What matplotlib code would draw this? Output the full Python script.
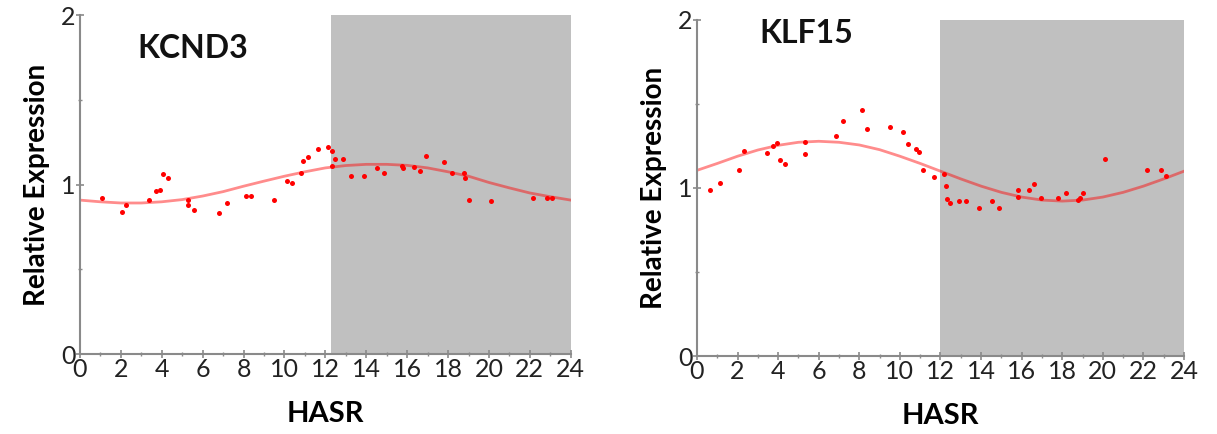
import numpy as np
import matplotlib
matplotlib.use("Agg")
import matplotlib.pyplot as plt
from matplotlib.ticker import MultipleLocator

plt.rcParams["font.family"] = ["Lato", "DejaVu Sans"]

# ---- KCND3 ----
kcnd3_h = [1.09, 2.05, 2.27, 3.4, 3.7, 3.91, 4.04, 4.32, 5.28, 5.28, 5.59, 6.81, 7.18,
           8.11, 8.34, 9.5, 10.13, 10.38, 10.79, 10.92, 11.13, 11.66, 12.12, 12.3, 12.46,
           12.33, 12.87, 13.25, 13.9, 14.52, 14.86, 15.77, 15.82, 16.34, 16.62, 16.93,
           17.79, 18.2, 18.8, 18.83, 19.03, 20.1, 22.17, 22.86, 23.09]
kcnd3_v = [0.92, 0.84, 0.88, 0.91, 0.96, 0.97, 1.06, 1.04, 0.91, 0.88, 0.85, 0.83, 0.89,
           0.93, 0.93, 0.91, 1.02, 1.01, 1.07, 1.14, 1.16, 1.21, 1.22, 1.20, 1.15,
           1.11, 1.15, 1.05, 1.05, 1.10, 1.07, 1.11, 1.10, 1.106, 1.08, 1.17,
           1.13, 1.07, 1.07, 1.04, 0.91, 0.90, 0.92, 0.92, 0.92]
kcnd3_fit = [0.908, 0.898, 0.891, 0.891, 0.898, 0.911, 0.932, 0.958, 0.990, 1.020, 1.049,
             1.075, 1.098, 1.112, 1.119, 1.119, 1.113, 1.098, 1.075, 1.049, 1.012, 0.980,
             0.950, 0.928, 0.908]
kcnd3_dark = (12.27, 24)

# ---- KLF15 ----
klf15_h = [0.64, 1.12, 2.08, 2.3, 3.45, 3.73, 3.96, 4.07, 4.35, 5.33, 5.33, 6.84, 7.21,
           8.15, 8.38, 9.53, 10.17, 10.4, 10.81, 10.92, 11.16, 11.69, 12.16, 12.29, 12.34,
           12.47, 12.9, 13.26, 13.92, 14.55, 14.9, 15.8, 15.8, 16.35, 16.61, 16.94, 17.79,
           18.2, 18.8, 18.85, 19.04, 20.1, 22.19, 22.88, 23.11]
klf15_v = [0.99, 1.03, 1.105, 1.22, 1.21, 1.25, 1.27, 1.165, 1.145, 1.275, 1.20, 1.31, 1.40,
           1.466, 1.353, 1.365, 1.333, 1.264, 1.232, 1.214, 1.105, 1.063, 1.083, 1.014, 0.933,
           0.909, 0.92, 0.92, 0.88, 0.92, 0.88, 0.99, 0.948, 0.99, 1.026, 0.938, 0.938,
           0.97, 0.93, 0.938, 0.97, 1.174, 1.105, 1.105, 1.073]
klf15_fit = [1.105, 1.146, 1.189, 1.226, 1.254, 1.272, 1.278, 1.272, 1.256, 1.228, 1.189,
             1.146, 1.100, 1.054, 1.011, 0.974, 0.946, 0.928, 0.922, 0.928, 0.946, 0.974,
             1.011, 1.054, 1.100]
klf15_dark = (12.0, 24)

hours = np.arange(25)

fig = plt.figure(figsize=(12.17, 4.34), dpi=100)
ax1 = fig.add_axes([0.0657, 0.1843, 0.4033, 0.7811])
ax2 = fig.add_axes([0.5727, 0.1797, 0.4002, 0.7743])

panels = [
    (ax1, "KCND3", kcnd3_h, kcnd3_v, kcnd3_fit, kcnd3_dark, (5.5, 1.8)),
    (ax2, "KLF15", klf15_h, klf15_v, klf15_fit, klf15_dark, (5.4, 1.92)),
]

axis_gray = "#8a8a8a"
for ax, name, h, v, fit, dark, tpos in panels:
    ax.axvspan(dark[0], dark[1], color="#c0c0c0", lw=0, zorder=0)
    ax.plot(hours, fit, color="red", alpha=0.45, lw=2, zorder=2)
    ax.plot(h, v, "o", color="red", ms=3.6, mec="none", zorder=3)
    ax.set_xlim(0, 24); ax.set_ylim(0, 2)
    ax.set_xticks(range(0, 25, 2)); ax.set_yticks([0, 1, 2])
    ax.xaxis.set_minor_locator(MultipleLocator(1))
    ax.yaxis.set_minor_locator(MultipleLocator(0.5))
    for s in ["top", "right"]:
        ax.spines[s].set_visible(False)
    for s in ["left", "bottom"]:
        ax.spines[s].set_color(axis_gray); ax.spines[s].set_linewidth(1.5)
    ax.tick_params(which="major", direction="inout", length=6, width=1.2,
                   color=axis_gray, labelsize=18, labelcolor="#222222", pad=0)
    ax.tick_params(which="minor", direction="inout", length=3, width=1,
                   color=axis_gray)
    ax.set_xlabel("HASR", fontsize=21, fontweight="bold", labelpad=14)
    ax.set_ylabel("Relative Expression", fontsize=20, fontweight="bold", labelpad=8)
    ax.text(tpos[0], tpos[1], name, fontsize=23, fontweight="bold",
            ha="center", va="center", color="#111111")

fig.savefig("out.png", dpi=100)
